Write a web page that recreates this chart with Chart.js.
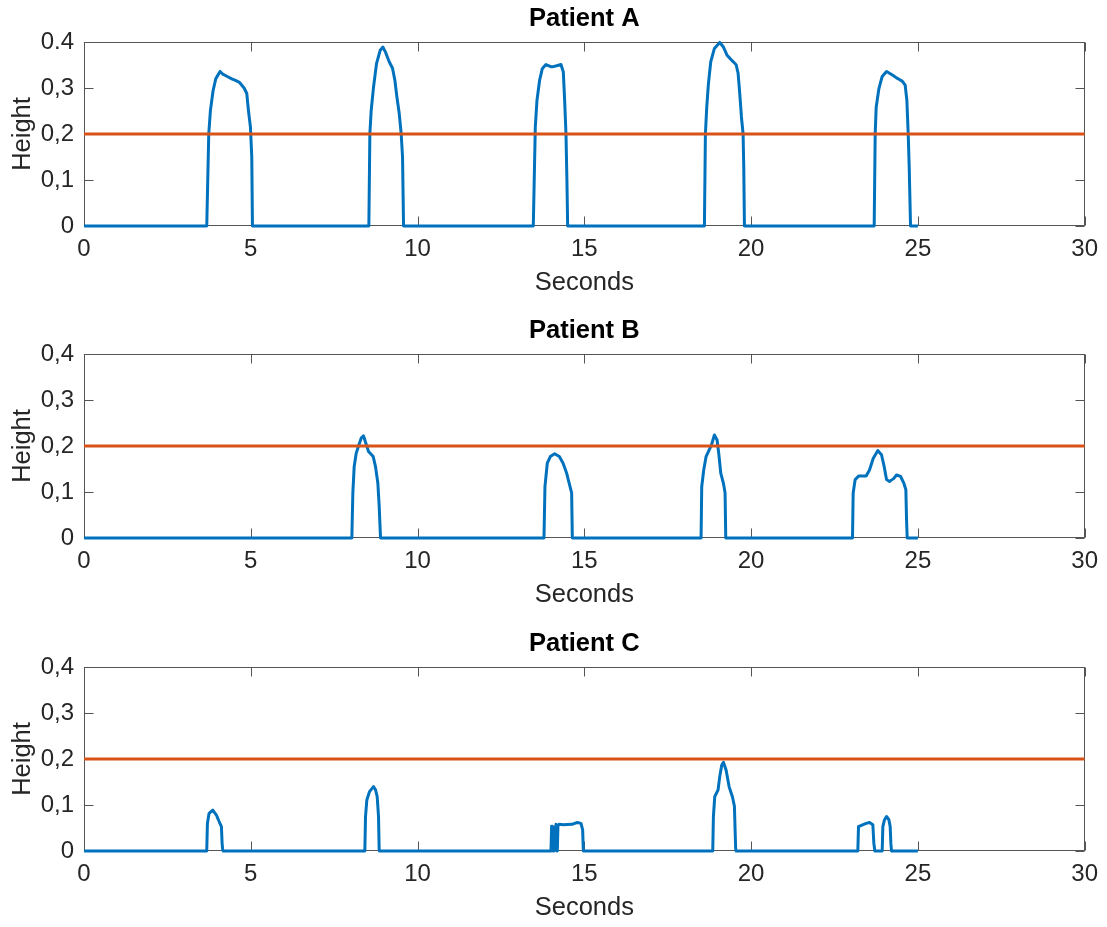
<!DOCTYPE html>
<html>
<head>
<meta charset="utf-8">
<script src="https://cdn.jsdelivr.net/npm/chart.js@4.4.1/dist/chart.umd.min.js"></script>
<style>
  html, body { margin: 0; background: #fff; overflow: hidden; }
  #wrap { position: relative; width: 1107px; height: 927px; overflow: hidden; }
  canvas { position: absolute; left: 0; }
</style>
</head>
<body>
<div id="wrap">
  <canvas id="chartA" width="1107" height="310" style="top:0px"></canvas>
  <canvas id="chartB" width="1107" height="310" style="top:312px"></canvas>
  <canvas id="chartC" width="1107" height="310" style="top:625px"></canvas>
</div>
<script>
const xTicks = [0, 5, 10, 15, 20, 25, 30];
const xTickLabels = ['0', '5', '10', '15', '20', '25', '30'];
const yTicks = [0, 0.1, 0.2, 0.3, 0.4];
const yTickLabelsA = ['0', '0,1', '0,2', '0,3', '0.4'];
const yTickLabels = ['0', '0,1', '0,2', '0,3', '0,4'];

const thresholdTimes = [0, 30];
const thresholdHeights = [0.2, 0.2];

// Patient A
const timesA = [0,
  3.68, 3.74, 3.79, 3.87, 3.95, 4.08, 4.16, 4.43, 4.65, 4.80, 4.88, 4.93, 4.99, 5.03, 5.05,
  8.54, 8.57, 8.61, 8.68, 8.77, 8.88, 8.96, 9.04, 9.15, 9.25, 9.32, 9.38, 9.45, 9.51, 9.55, 9.58,
  13.47, 13.53, 13.58, 13.66, 13.74, 13.85, 14.01, 14.04, 14.20, 14.30, 14.37, 14.41, 14.45, 14.48, 14.50,
  18.60, 18.63, 18.67, 18.72, 18.79, 18.90, 19.06, 19.17, 19.28, 19.41, 19.55, 19.61, 19.66, 19.71, 19.76, 19.78, 19.80,
  23.69, 23.72, 23.75, 23.83, 23.93, 24.06, 24.20, 24.36, 24.53, 24.62, 24.67, 24.71, 24.74, 24.78, 25.0];
const heightsA = [0,
  0, 0.200, 0.251, 0.294, 0.320, 0.336, 0.330, 0.320, 0.313, 0.300, 0.288, 0.251, 0.215, 0.150, 0,
  0, 0.200, 0.251, 0.302, 0.353, 0.382, 0.389, 0.378, 0.357, 0.343, 0.317, 0.281, 0.245, 0.200, 0.150, 0,
  0, 0.215, 0.273, 0.317, 0.342, 0.351, 0.346, 0.346, 0.349, 0.351, 0.335, 0.273, 0.200, 0.091, 0,
  0, 0.200, 0.258, 0.309, 0.357, 0.386, 0.399, 0.389, 0.371, 0.361, 0.351, 0.332, 0.288, 0.237, 0.200, 0.128, 0,
  0, 0.200, 0.258, 0.298, 0.325, 0.336, 0.330, 0.322, 0.315, 0.306, 0.273, 0.200, 0.128, 0, 0];

// Patient B
const timesB = [0,
  8.03, 8.06, 8.10, 8.16, 8.24, 8.31, 8.38, 8.45, 8.53, 8.67, 8.74, 8.81, 8.85, 8.89,
  13.79, 13.82, 13.89, 13.98, 14.11, 14.25, 14.36, 14.47, 14.57, 14.62, 14.64,
  18.50, 18.52, 18.58, 18.65, 18.74, 18.81, 18.90, 18.98, 19.03, 19.09, 19.17, 19.22, 19.24,
  23.04, 23.06, 23.12, 23.23, 23.45, 23.55, 23.66, 23.80, 23.91, 23.99, 24.06, 24.15, 24.26, 24.36, 24.48, 24.58, 24.64, 24.66, 24.68, 25.0];
const heightsB = [0,
  0, 0.098, 0.155, 0.184, 0.202, 0.217, 0.222, 0.206, 0.188, 0.177, 0.155, 0.119, 0.069, 0,
  0, 0.112, 0.163, 0.177, 0.183, 0.177, 0.163, 0.141, 0.112, 0.098, 0,
  0, 0.112, 0.148, 0.177, 0.191, 0.202, 0.224, 0.213, 0.184, 0.141, 0.119, 0.098, 0,
  0, 0.098, 0.127, 0.135, 0.135, 0.148, 0.173, 0.190, 0.181, 0.155, 0.127, 0.123, 0.128, 0.137, 0.134, 0.119, 0.105, 0.040, 0, 0];

// Patient C
const timesC = [0,
  3.68, 3.70, 3.75, 3.86, 3.97, 4.05, 4.12, 4.14, 4.16,
  8.42, 8.44, 8.48, 8.56, 8.68, 8.74, 8.79, 8.83, 8.85,
  14.00, 14.02, 14.04, 14.06, 14.09, 14.11, 14.13, 14.15, 14.17, 14.19, 14.21, 14.25, 14.36, 14.63, 14.79, 14.90, 14.95, 14.97,
  18.85, 18.87, 18.91, 19.01, 19.06, 19.12, 19.17, 19.25, 19.34, 19.44, 19.50, 19.52, 19.54,
  23.20, 23.22, 23.34, 23.45, 23.55, 23.65, 23.68, 23.71, 23.93, 23.95, 24.00, 24.06, 24.13, 24.17, 24.19, 24.21, 25.0];
const heightsC = [0,
  0, 0.060, 0.082, 0.089, 0.078, 0.064, 0.053, 0.017, 0,
  0, 0.075, 0.111, 0.129, 0.140, 0.133, 0.118, 0.075, 0,
  0, 0.054, 0.054, 0, 0, 0.052, 0.020, 0.058, 0, 0, 0.056, 0.058, 0.057, 0.058, 0.062, 0.060, 0.046, 0,
  0, 0.075, 0.118, 0.133, 0.162, 0.187, 0.193, 0.176, 0.140, 0.118, 0.097, 0.046, 0,
  0, 0.053, 0.057, 0.060, 0.062, 0.057, 0.017, 0, 0, 0.053, 0.068, 0.075, 0.068, 0.053, 0.017, 0, 0];

const FONT = '"Liberation Sans", Arial, Helvetica, sans-serif';

function toPoints(times, heights) {
  return times.map((t, i) => ({ x: t, y: heights[i] }));
}

// MATLAB style box with inward ticks on all four sides
const matlabAxes = {
  id: 'matlabAxes',
  beforeDatasetsDraw(chart) {
    const { ctx, chartArea: a, scales: { x, y } } = chart;
    const L = Math.round(a.left) + 0.5, R = Math.round(a.right) - 0.5;
    const T = Math.round(a.top) + 0.5, B = Math.round(a.bottom) - 0.5;
    ctx.save();
    ctx.strokeStyle = '#555';
    ctx.lineWidth = 1;
    ctx.strokeRect(L, T, R - L, B - T);
    ctx.beginPath();
    xTicks.forEach(v => {
      const px = Math.round(x.getPixelForValue(v)) + 0.5;
      ctx.moveTo(px, B); ctx.lineTo(px, B - 9);
      ctx.moveTo(px, T); ctx.lineTo(px, T + 9);
    });
    yTicks.forEach(v => {
      const py = Math.round(y.getPixelForValue(v)) + 0.5;
      ctx.moveTo(L, py); ctx.lineTo(L + 9, py);
      ctx.moveTo(R, py); ctx.lineTo(R - 9, py);
    });
    ctx.stroke();
    ctx.restore();
  }
};

function makePatient(id, title, times, heights, yLabels) {
  return new Chart(document.getElementById(id), {
    type: 'line',
    data: {
      datasets: [
        {
          data: toPoints(thresholdTimes, thresholdHeights),
          borderColor: '#D95319',
          borderWidth: 3,
          pointRadius: 0,
          clip: 3,
          order: 0
        },
        {
          data: toPoints(times, heights),
          borderColor: '#0072BD',
          borderWidth: 3,
          borderJoinStyle: 'round',
          pointRadius: 0,
          tension: 0.000001,
          clip: 3,
          order: 1
        }
      ]
    },
    options: {
      responsive: false,
      animation: false,
      layout: { padding: { left: 0, right: 20, top: 0, bottom: 0 } },
      plugins: {
        legend: { display: false },
        tooltip: { enabled: false },
        title: {
          display: true,
          text: title,
          fullSize: false,
          color: '#000',
          font: { family: FONT, size: 25.5, weight: 'bold' },
          padding: { top: 3.5, bottom: 7.9 }
        }
      },
      scales: {
        x: {
          type: 'linear',
          min: 0,
          max: 30,
          grid: { display: false, drawTicks: false },
          border: { display: false },
          ticks: {
            stepSize: 5,
            autoSkip: false,
            maxRotation: 0,
            padding: 9,
            color: '#262626',
            font: { family: FONT, size: 24 },
            callback: (v, i) => xTickLabels[i]
          },
          title: {
            display: true,
            text: 'Seconds',
            color: '#262626',
            font: { family: FONT, size: 25.5 },
            padding: { top: 0, bottom: 12 }
          },
          afterFit: s => { s.height = 84; }
        },
        y: {
          min: 0,
          max: 0.4,
          grid: { display: false, drawTicks: false },
          border: { display: false },
          ticks: {
            stepSize: 0.1,
            autoSkip: false,
            padding: 10,
            color: '#262626',
            font: { family: FONT, size: 24 },
            callback: (v, i) => yLabels[i]
          },
          title: {
            display: true,
            text: 'Height',
            color: '#262626',
            font: { family: FONT, size: 25.5 },
            padding: { top: 8, bottom: 0 }
          },
          afterFit: s => { s.width = 84; }
        }
      }
    },
    plugins: [matlabAxes]
  });
}

makePatient('chartA', 'Patient A', timesA, heightsA, yTickLabelsA);
makePatient('chartB', 'Patient B', timesB, heightsB, yTickLabels);
makePatient('chartC', 'Patient C', timesC, heightsC, yTickLabels);
</script>
</body>
</html>
